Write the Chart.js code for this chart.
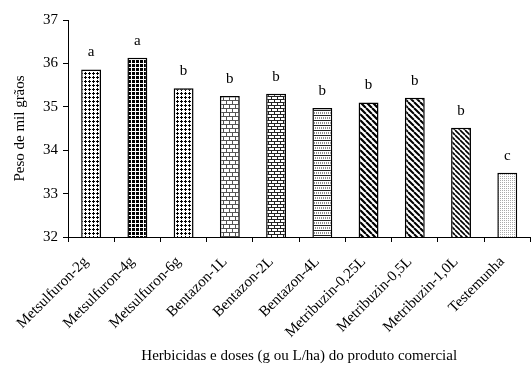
<!DOCTYPE html>
<html>
<head>
<meta charset="utf-8">
<script src="https://cdn.jsdelivr.net/npm/chart.js@4"></script>
<style>
    body { margin: 0; background: #fff; }
    #wrap { width: 531px; height: 365px; }
</style>
</head>
<body>
<div id="wrap"><canvas id="chart" width="531" height="365"></canvas></div>
<script>
// Data
const categories = ['Metsulfuron-2g', 'Metsulfuron-4g', 'Metsulfuron-6g', 'Bentazon-1L', 'Bentazon-2L',
    'Bentazon-4L', 'Metribuzin-0,25L', 'Metribuzin-0,5L', 'Metribuzin-1,0L', 'Testemunha'];
const pesoMilGraos = [35.86, 36.13, 35.43, 35.25, 35.30, 34.97, 35.10, 35.21, 34.52, 33.48];
const letras = ['a', 'a', 'b', 'b', 'b', 'b', 'b', 'b', 'b', 'c'];
const yTicks = [32, 33, 34, 35, 36, 37];

const serif = "'Liberation Serif', 'Times New Roman', serif";

// Pattern helpers
function makePattern(ctx, w, h, draw) {
    const c = document.createElement('canvas');
    c.width = w;
    c.height = h;
    const p = c.getContext('2d');
    p.fillStyle = '#fff';
    p.fillRect(0, 0, w, h);
    p.fillStyle = '#000';
    p.strokeStyle = '#000';
    draw(p, w, h);
    return ctx.createPattern(c, 'repeat');
}

// crisp "plus" shaped dot, or full square when solid
function dots(solid) {
    return (p) => {
        if (solid) {
            p.fillRect(0, 0, 3, 3);
        } else {
            p.fillRect(1, 0, 1, 3);
            p.fillRect(0, 1, 3, 1);
        }
    };
}

function bricks(color, dy, dotted) {
    return (p, w, h) => {
        p.fillStyle = color;
        p.fillRect(0, 0, w, 1);
        p.fillRect(0, dy, w, 1);
        if (dotted) {
            for (let x = 0; x < w; x += 2) p.fillRect(x, dy / 2, 1, 1);
            for (let x = 1; x < w; x += 2) p.fillRect(x, dy + dy / 2, 1, 1);
        } else {
            p.fillRect(1, 0, 1, dy);
            p.fillRect(w / 2 + 1, dy, 1, dy);
        }
    };
}

function stripes(lw) {
    return (p, w, h) => {
        p.lineWidth = lw;
        p.beginPath();
        for (let k = -1; k <= 1; k++) {
            p.moveTo(k * w, 0);
            p.lineTo(k * w + w, h);
        }
        p.stroke();
    };
}

const canvas = document.getElementById('chart');
const ctx = canvas.getContext('2d');

const patterns = [
    makePattern(ctx, 4, 4, dots(false)),
    makePattern(ctx, 4, 4, dots(true)),
    makePattern(ctx, 4, 4, dots(false)),
    makePattern(ctx, 6, 8, bricks('#555', 4, false)),
    makePattern(ctx, 6, 6, bricks('#222', 3, false)),
    makePattern(ctx, 6, 10, bricks('#222', 5, true)),
    makePattern(ctx, 6, 6, stripes(2.2)),
    makePattern(ctx, 6, 6, stripes(2)),
    makePattern(ctx, 5, 5, stripes(1.6)),
    makePattern(ctx, 2, 2, (p) => { p.fillStyle = '#aaa'; p.fillRect(0, 0, 1, 1); })
];

// Letters above the bars
const letterPlugin = {
    id: 'letras',
    afterDatasetsDraw(chart) {
        const c = chart.ctx;
        const meta = chart.getDatasetMeta(0);
        c.save();
        c.font = '15px ' + serif;
        c.fillStyle = '#000';
        c.textAlign = 'center';
        c.textBaseline = 'middle';
        meta.data.forEach((bar, i) => {
            c.fillText(letras[i], bar.x, bar.y - 17);
        });
        c.restore();
    }
};

new Chart(ctx, {
    type: 'bar',
    data: {
        labels: categories,
        datasets: [{
            data: pesoMilGraos,
            backgroundColor: patterns,
            borderColor: '#000',
            borderWidth: 1.5,
            borderSkipped: false,
            categoryPercentage: 1,
            barPercentage: 0.43
        }]
    },
    options: {
        responsive: false,
        animation: false,
        layout: { padding: { top: 20, right: 0, left: 0, bottom: 0 } },
        plugins: {
            legend: { display: false },
            tooltip: { enabled: false }
        },
        scales: {
            x: {
                offset: true,
                grid: {
                    offset: true,
                    drawOnChartArea: false,
                    drawTicks: true,
                    tickLength: 5,
                    color: '#000'
                },
                border: { display: true, color: '#000', width: 1 },
                ticks: {
                    autoSkip: false,
                    minRotation: 45,
                    maxRotation: 45,
                    padding: 11,
                    labelOffset: -5,
                    color: '#000',
                    font: { family: serif, size: 15 }
                },
                title: {
                    display: true,
                    text: 'Herbicidas e doses (g ou L/ha) do produto comercial',
                    color: '#000',
                    font: { family: serif, size: 15 },
                    padding: { top: 0, bottom: 0 }
                },
                afterFit: (scale) => { scale.height = 128; }
            },
            y: {
                min: yTicks[0],
                max: yTicks[yTicks.length - 1],
                afterBuildTicks: (scale) => { scale.ticks = yTicks.map(v => ({ value: v })); },
                grid: {
                    drawOnChartArea: false,
                    drawTicks: true,
                    tickLength: 5,
                    color: '#000'
                },
                border: { display: true, color: '#000', width: 1 },
                ticks: {
                    padding: 5,
                    color: '#000',
                    font: { family: serif, size: 15 }
                },
                title: {
                    display: true,
                    text: 'Peso de mil grãos',
                    color: '#000',
                    font: { family: serif, size: 15 },
                    padding: { top: 11, bottom: 0 }
                },
                afterFit: (scale) => { scale.width = 68; }
            }
        }
    },
    plugins: [letterPlugin]
});
</script>
</body>
</html>
